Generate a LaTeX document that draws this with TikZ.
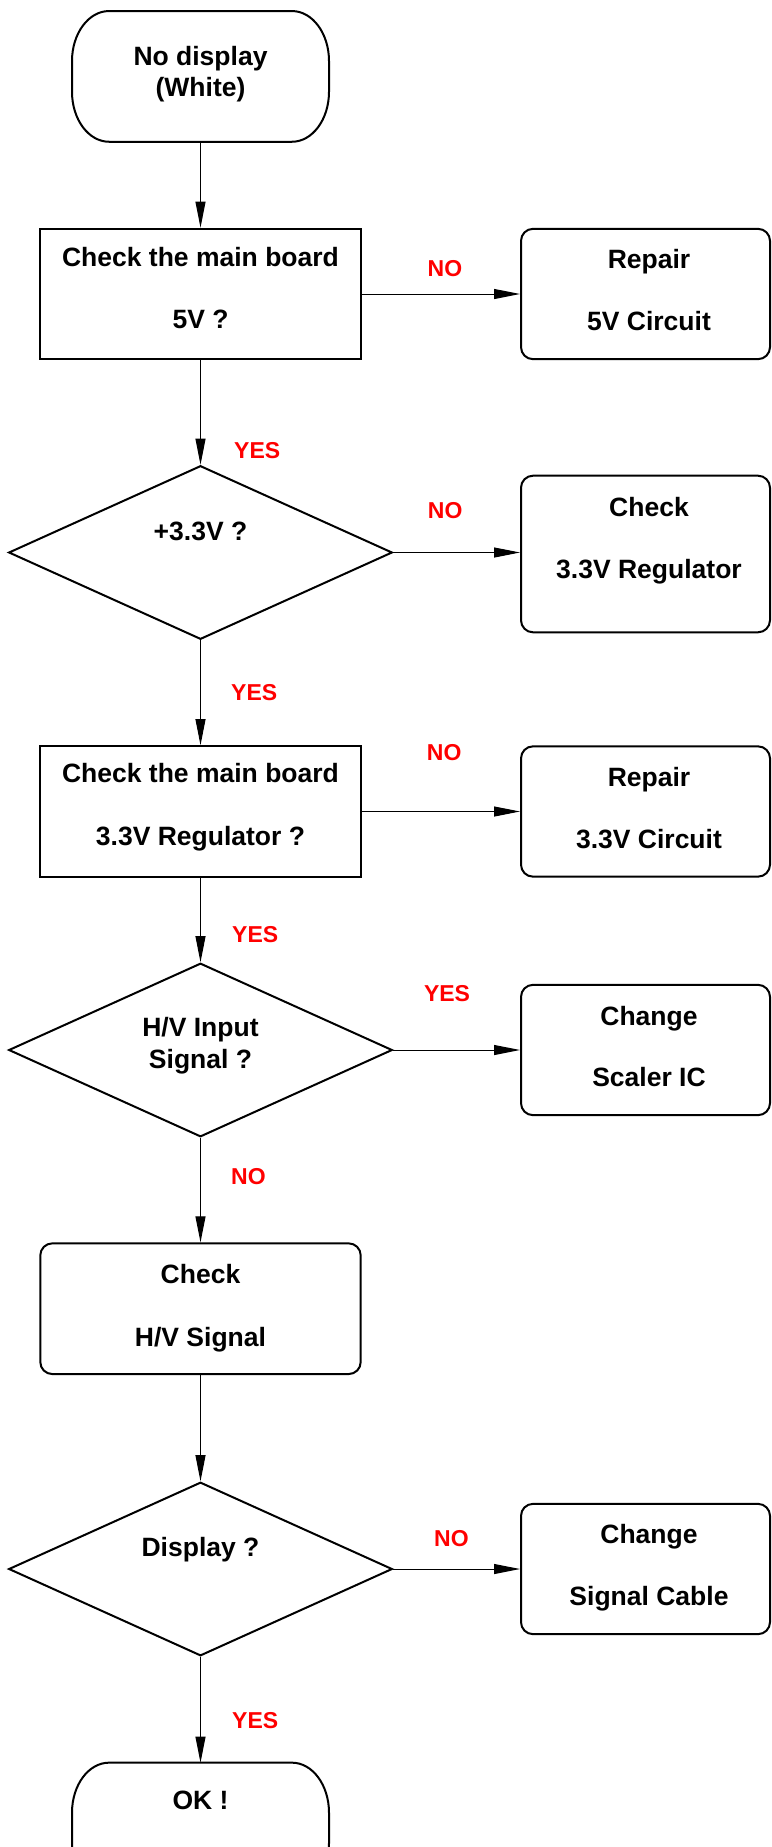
\documentclass[tikz,border=0pt]{standalone}
\usepackage{fontspec}
\setmainfont{Liberation Sans}
\usetikzlibrary{arrows.meta,shapes.geometric}

\tikzset{
  shapeline/.style={draw=black, line width=2pt},
  procbox/.style={shapeline, rectangle, minimum width=320.4pt, minimum height=130.7pt, inner sep=0pt},
  roundbox/.style={procbox, rounded corners=12pt},
  sidebox/.style={shapeline, rectangle, rounded corners=12pt, minimum width=249pt, minimum height=130.3pt, inner sep=0pt},
  decision/.style={shapeline, diamond, minimum width=383.6pt, minimum height=173.6pt, inner sep=0pt},
  termnode/.style={rectangle, minimum width=257pt, minimum height=130.7pt, inner sep=0pt, outer sep=0pt},
  flow/.style={draw=black, line width=1pt, -{Triangle[length=26pt,width=10pt]}},
  txt/.style={font=\bfseries\fontsize{26.5}{32}\selectfont, inner sep=0pt, anchor=base},
  lbl/.style={font=\bfseries\fontsize{23}{28}\selectfont, text=red, inner sep=0pt, anchor=base west},
}

% stadium outline with elliptical ends around a terminal node
\newcommand\termline[1]{%
  \draw[shapeline] ([xshift=37pt]#1.north west) -- ([xshift=-37pt]#1.north east)
    arc[start angle=90, end angle=0, x radius=37pt, y radius=50pt]
    -- ([yshift=50pt]#1.south east)
    arc[start angle=0, end angle=-90, x radius=37pt, y radius=50pt]
    -- ([xshift=37pt]#1.south west)
    arc[start angle=270, end angle=180, x radius=37pt, y radius=50pt]
    -- ([yshift=-50pt]#1.north west)
    arc[start angle=180, end angle=90, x radius=37pt, y radius=50pt] -- cycle;}

\begin{document}
\begin{tikzpicture}[x=1pt, y=-1pt]
\useasboundingbox (0,0) rectangle (771,1847);
\clip (0,0) rectangle (771,1847);

% ---- shapes ----
\node[termnode] (start) at (200.5,76.4) {};
\termline{start}
\node[procbox]  (b1) at (200.5,294) {};
\node[sidebox]  (r1) at (645.5,294) {};
\node[decision] (d1) at (200.5,552.5) {};
\node[sidebox, minimum height=156.6pt] (c1) at (645.5,554) {};
\node[procbox]  (b3) at (200.5,811.5) {};
\node[sidebox]  (r3) at (645.5,811.5) {};
\node[decision] (d2) at (200.5,1050) {};
\node[sidebox]  (c2) at (645.5,1050) {};
\node[roundbox] (b5) at (200.5,1308.7) {};
\node[decision] (d3) at (200.5,1569) {};
\node[sidebox]  (c3) at (645.5,1569) {};
\node[termnode] (ok) at (200.5,1828) {};
\termline{ok}

% ---- texts ----
\node[txt] (start-a) at (200.5,65.7)  {No display};
\node[txt] (start-b) at (200.5,96.7)  {(White)};
\node[txt] (b1-a) at (200.5,266.7) {Check the main board};
\node[txt] (b1-b) at (200.5,328.5) {5V ?};
\node[txt] (r1-a) at (649,268.3) {Repair};
\node[txt] (r1-b) at (649,330)   {5V Circuit};
\node[txt] (d1-a) at (200.5,540) {+3.3V ?};
\node[txt] (c1-a) at (649,516.7) {Check};
\node[txt] (c1-b) at (649,578.3) {3.3V Regulator};
\node[txt] (b3-a) at (200.5,782.7) {Check the main board};
\node[txt] (b3-b) at (200.5,845)   {3.3V Regulator ?};
\node[txt] (r3-a) at (649,786.7) {Repair};
\node[txt] (r3-b) at (649,848.3) {3.3V Circuit};
\node[txt] (d2-a) at (200.5,1036.7) {H/V Input};
\node[txt] (d2-b) at (200.5,1068.3) {Signal ?};
\node[txt] (c2-a) at (649,1025)   {Change};
\node[txt] (c2-b) at (649,1086.7) {Scaler IC};
\node[txt] (b5-a) at (200.5,1283.3) {Check};
\node[txt] (b5-b) at (200.5,1346.7) {H/V Signal};
\node[txt] (d3-a) at (200.5,1556.7) {Display ?};
\node[txt] (c3-a) at (649,1543.3) {Change};
\node[txt] (c3-b) at (649,1605.7) {Signal Cable};
\node[txt] (ok-a) at (200.5,1809.3) {OK !};

% ---- branch labels ----
\node[lbl] (l-no1)  at (427.5,276)    {NO};
\node[lbl] (l-yes1) at (234,458.3)    {YES};
\node[lbl] (l-no2)  at (427.7,518.3)  {NO};
\node[lbl] (l-yes2) at (231,700)      {YES};
\node[lbl] (l-no3)  at (426.7,760)    {NO};
\node[lbl] (l-yes3) at (232,942.3)    {YES};
\node[lbl] (l-yes4) at (423.8,1001.7) {YES};
\node[lbl] (l-no4)  at (231,1184)     {NO};
\node[lbl] (l-no5)  at (434,1546.7)   {NO};
\node[lbl] (l-yes5) at (232,1728.3)   {YES};

% ---- connectors ----
\draw[flow] (start.south) -- (b1.north);
\draw[flow] (b1.east) -- (r1.west);
\draw[flow] (b1.south) -- (d1.north);
\draw[flow] (d1.east) -- (d1.east -| c1.west);
\draw[flow] (d1.south) -- (b3.north);
\draw[flow] (b3.east) -- (r3.west);
\draw[flow] (b3.south) -- (d2.north);
\draw[flow] (d2.east) -- (c2.west);
\draw[flow] (d2.south) -- (b5.north);
\draw[flow] (b5.south) -- (d3.north);
\draw[flow] (d3.east) -- (c3.west);
\draw[flow] (d3.south) -- (ok.north);
\end{tikzpicture}
\end{document}
